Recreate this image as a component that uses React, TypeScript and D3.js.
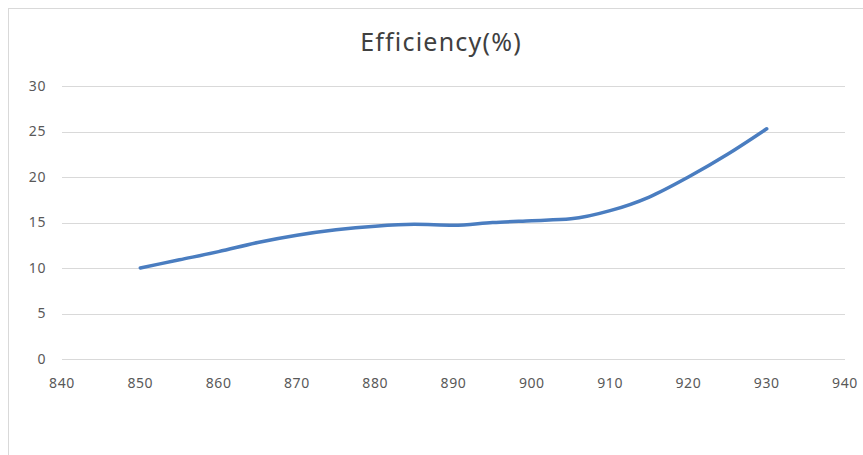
import React from 'react';
import * as d3 from 'd3';

// values
const wavelengths = [850, 855, 860, 865, 870, 875, 880, 885, 890, 895, 900, 905, 910, 915, 920, 925, 930];
const efficiency = [10.0, 10.9, 11.8, 12.8, 13.6, 14.2, 14.6, 14.8, 14.7, 15.0, 15.2, 15.4, 16.3, 17.8, 20.0, 22.5, 25.3];
const xTicks = [840, 850, 860, 870, 880, 890, 900, 910, 920, 930, 940];
const yTicks = [0, 5, 10, 15, 20, 25, 30];
const title = 'Efficiency(%)';

const W = 863;
const H = 455;
const margin = { top: 86, right: 18, bottom: 96, left: 62 };

export default function App() {
  const x = d3.scaleLinear().domain([840, 940]).range([margin.left, W - margin.right]);
  const y = d3.scaleLinear().domain([0, 30]).range([H - margin.bottom, margin.top]);

  const line = d3.line<number>()
    .x((_, i) => x(wavelengths[i]))
    .y(d => y(d))
    .curve(d3.curveMonotoneX);

  const font = '"Noto Sans", "Open Sans", sans-serif';

  return (
    <svg
      width={W}
      height={H}
      style={{ position: 'absolute', left: 0, top: 0, background: '#fff' }}
    >
      {/* chart frame */}
      <rect x={8.5} y={8.5} width={W + 20} height={H + 20} fill="#fff" stroke="#d9d9d9" />

      <text
        x={441}
        y={51}
        textAnchor="middle"
        fontFamily={font}
        fontSize={25}
        letterSpacing={1.2}
        fill="#404040"
      >
        {title}
      </text>

      {/* horizontal gridlines */}
      {yTicks.map(t => (
        <line
          key={'g' + t}
          x1={x.range()[0]}
          x2={x.range()[1]}
          y1={Math.round(y(t)) + 0.5}
          y2={Math.round(y(t)) + 0.5}
          stroke="#d9d9d9"
          strokeWidth={1}
        />
      ))}

      {yTicks.map(t => (
        <text
          key={'y' + t}
          x={46}
          y={y(t)}
          dy="0.35em"
          textAnchor="end"
          fontFamily={font}
          fontSize={14}
          letterSpacing={0.6}
          fill="#595959"
        >
          {t}
        </text>
      ))}

      {xTicks.map(t => (
        <text
          key={'x' + t}
          x={x(t)}
          y={y(0) + 24}
          dy="0.35em"
          textAnchor="middle"
          fontFamily={font}
          fontSize={14}
          letterSpacing={0.6}
          fill="#595959"
        >
          {t}
        </text>
      ))}

      <path
        d={line(efficiency) || ''}
        fill="none"
        stroke="#4a7dc0"
        strokeWidth={3.5}
        strokeLinecap="round"
        strokeLinejoin="round"
      />
    </svg>
  );
}
